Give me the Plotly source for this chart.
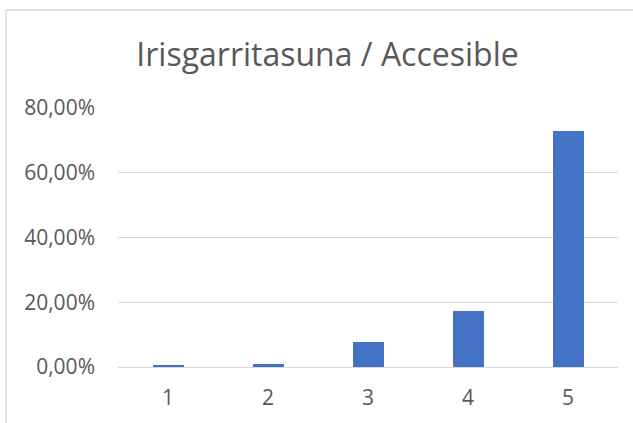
import plotly.graph_objects as go

categories = ["1", "2", "3", "4", "5"]
values = [0.006, 0.010, 0.077, 0.173, 0.729]
title = "Irisgarritasuna / Accesible"

# plot area in pixels: x 118..618, y 108..367
W, H = 633, 423
L, R, T, B = 118, W - 618, 108, H - 367
pw, ph = W - L - R, H - T - B

fig = go.Figure(
    go.Bar(x=categories, y=values, marker=dict(color="#4472C4", line=dict(width=0)), width=0.31)
)

fig.update_layout(
    width=W, height=H,
    margin=dict(l=L, r=R, t=T, b=B),
    plot_bgcolor="white", paper_bgcolor="white",
    showlegend=False,
    font=dict(family="Open Sans, Liberation Sans, sans-serif", color="#595959"),
    title=dict(
        text=title, x=327.5 / W, xanchor="center", y=1 - 55 / H, yanchor="middle",
        font=dict(size=32, color="#595959"),
    ),
    bargap=0,
    xaxis=dict(
        showgrid=False, showline=False, zeroline=False, ticks="",
        tickfont=dict(size=21), ticklabelstandoff=16,
    ),
    yaxis=dict(
        range=[0, 0.8], dtick=0.2, tickformat=".2%",
        showgrid=True, gridcolor="#D9D9D9", gridwidth=1.3,
        zeroline=True, zerolinecolor="#D9D9D9", zerolinewidth=1.3,
        showline=False, ticks="", tickfont=dict(size=21), ticklabelstandoff=22,
    ),
    separators=",.",
)

# chart frame: only the top and left edges are visible
fx0 = (6 - L) / pw
fy1 = (H - B - 10) / ph
fig.add_shape(type="line", xref="paper", yref="paper", x0=fx0, x1=2, y0=fy1, y1=fy1,
              line=dict(color="#D9D9D9", width=1.5))
fig.add_shape(type="line", xref="paper", yref="paper", x0=fx0, x1=fx0, y0=fy1, y1=-1,
              line=dict(color="#D9D9D9", width=1.5))

# page body has a default 8px margin; drop it so the figure sits at 0,0
fig.write_html("out.html", config=dict(displayModeBar=False),
               post_script="document.body.style.margin='0';")
